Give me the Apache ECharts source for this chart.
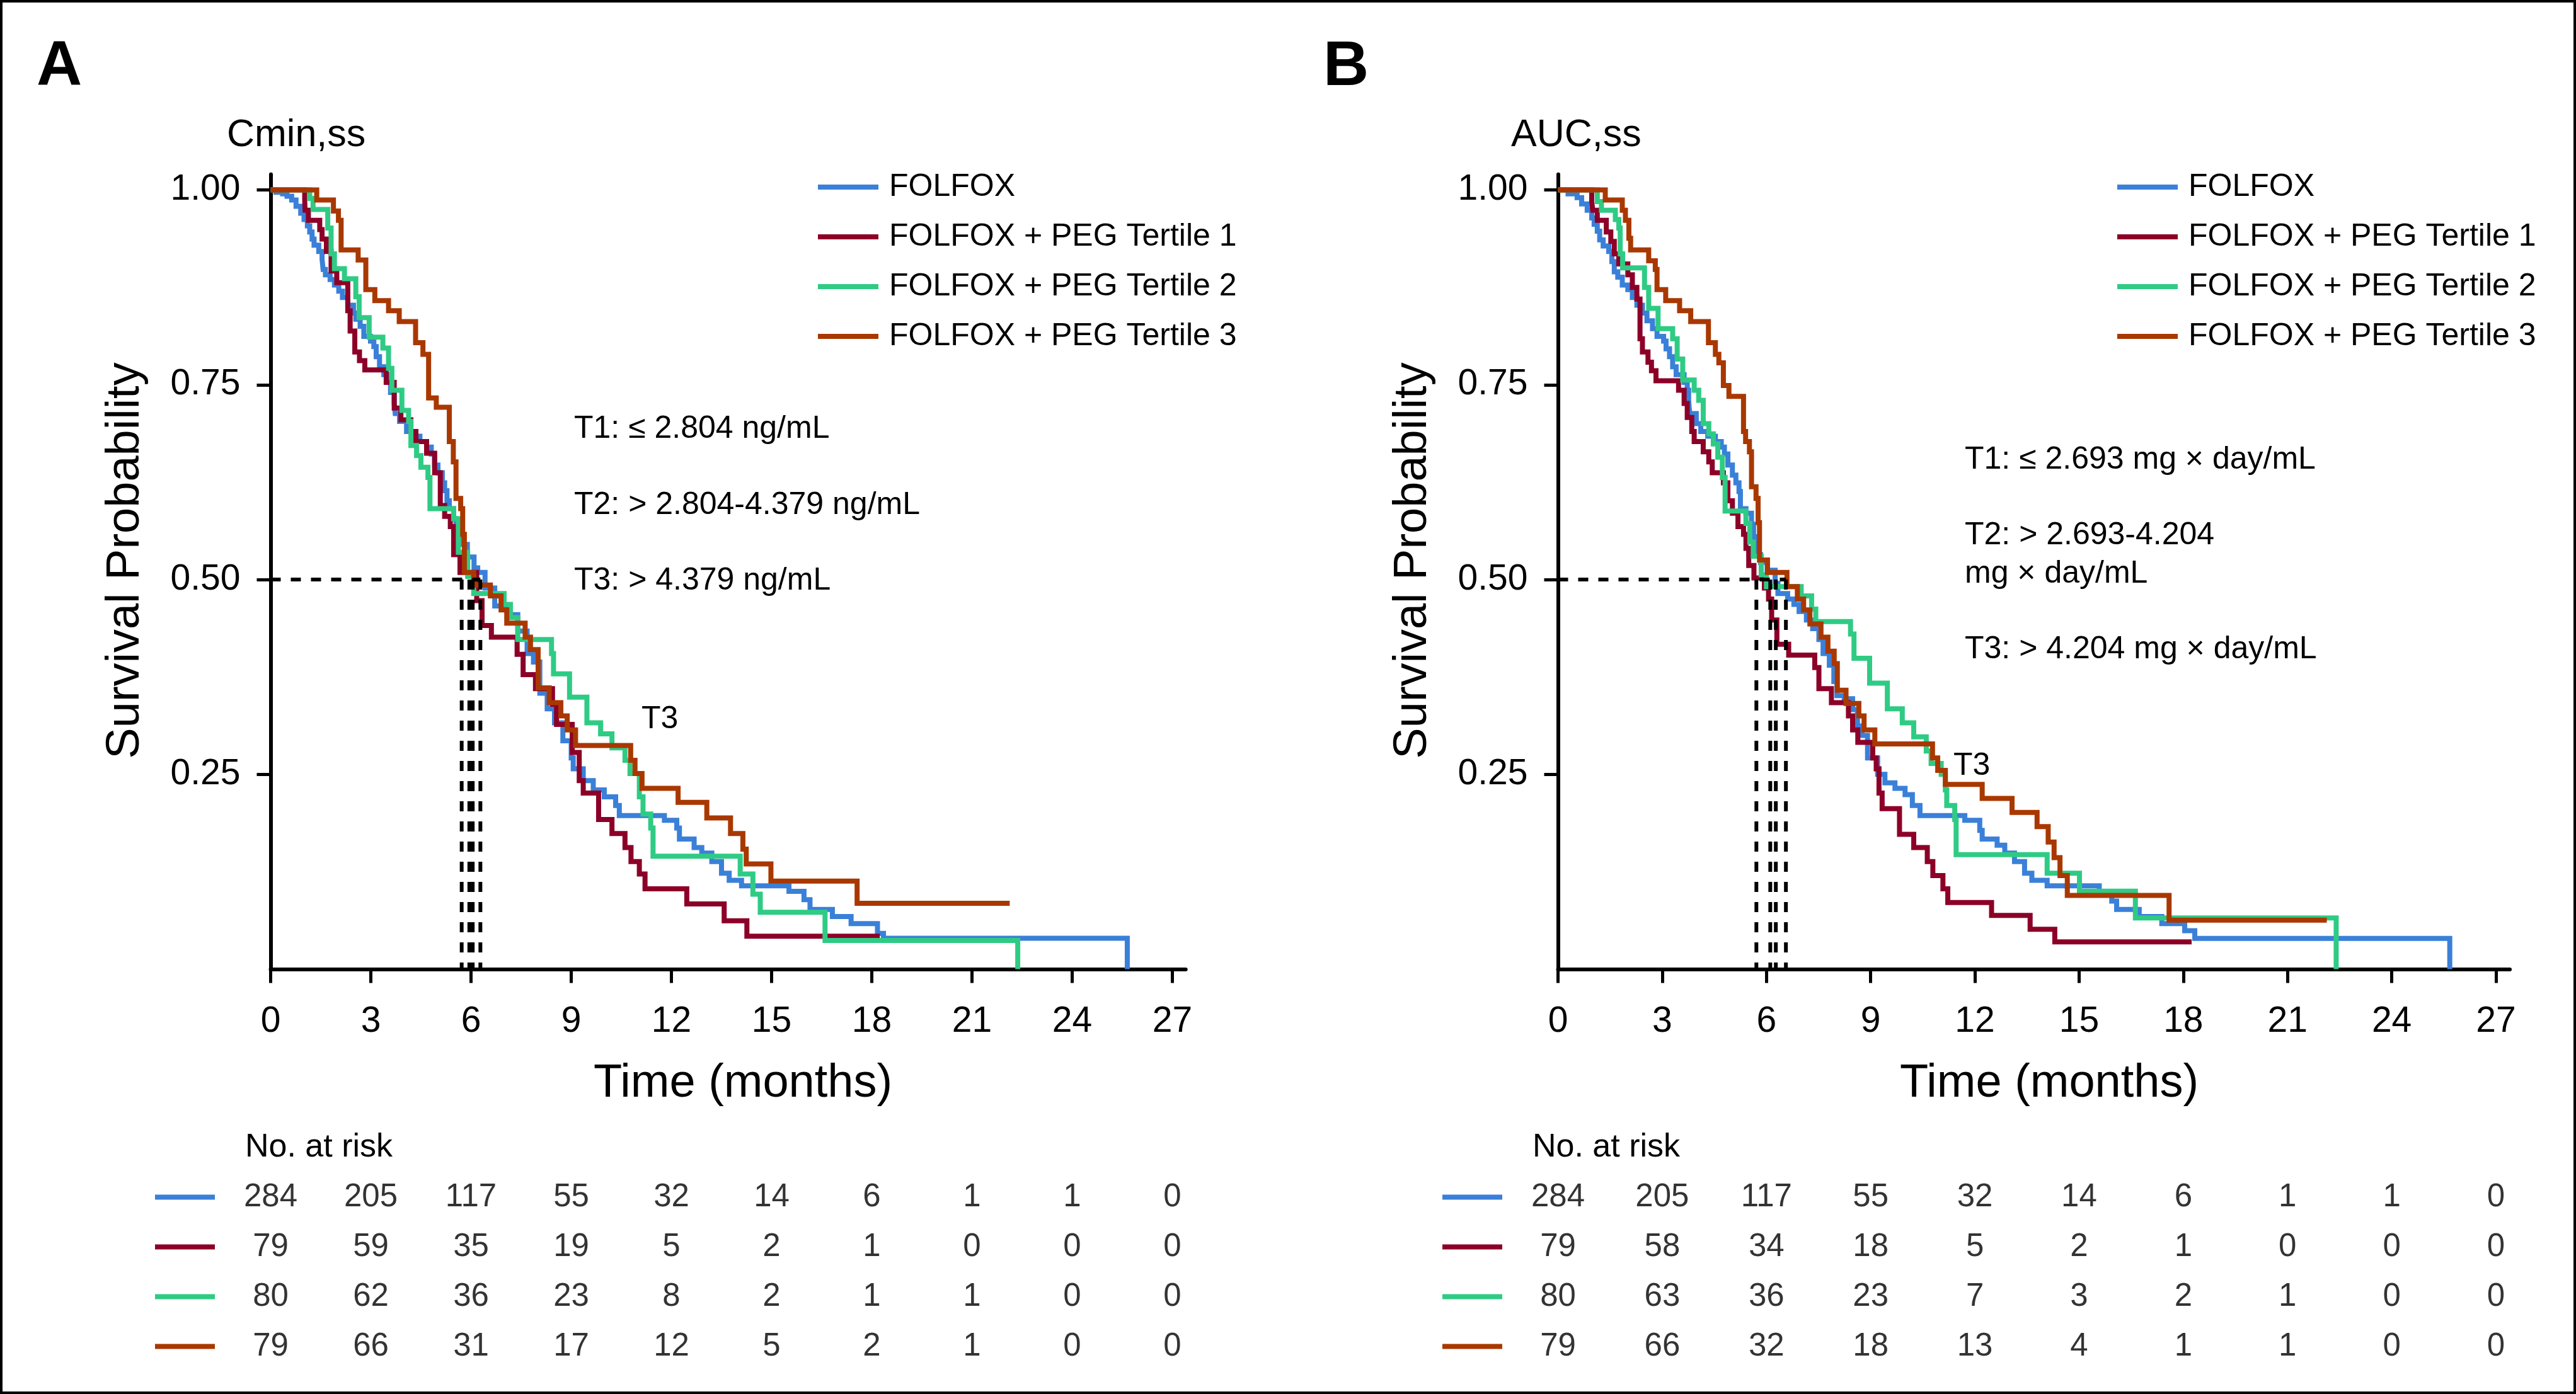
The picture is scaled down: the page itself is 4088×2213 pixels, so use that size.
<!DOCTYPE html>
<html><head><meta charset="utf-8">
<script src="https://cdn.jsdelivr.net/npm/echarts@6/dist/echarts.min.js"></script>
<style>html,body{margin:0;padding:0;background:#fff}#c{width:4088px;height:2213px}</style>
</head><body><div id="c"></div>
<script>
// ---------- DATA ----------
const seriesNames = ['FOLFOX', 'FOLFOX + PEG Tertile 1', 'FOLFOX + PEG Tertile 2', 'FOLFOX + PEG Tertile 3'];
const xTicks = [0, 3, 6, 9, 12, 15, 18, 21, 24, 27];
const yTicks = [0.25, 0.5, 0.75, 1.0];

// Panel A (Cmin,ss) Kaplan-Meier steps [months, survival]
const aFolfox = [[0,1],[0.16,0.997],[0.36,0.995],[0.49,0.992],[0.63,0.987],[0.76,0.979],[0.90,0.970],[1.00,0.962],[1.10,0.954],[1.17,0.946],[1.24,0.937],[1.30,0.929],[1.44,0.921],[1.54,0.911],[1.57,0.898],[1.64,0.891],[1.78,0.885],[1.91,0.878],[2.04,0.870],[2.15,0.862],[2.31,0.852],[2.48,0.842],[2.55,0.834],[2.68,0.825],[2.79,0.812],[2.99,0.806],[3.09,0.799],[3.16,0.786],[3.26,0.773],[3.39,0.763],[3.49,0.753],[3.59,0.740],[3.70,0.726],[3.73,0.713],[3.86,0.703],[4.07,0.690],[4.27,0.684],[4.47,0.677],[4.67,0.670],[4.81,0.661],[4.91,0.647],[5.01,0.637],[5.14,0.624],[5.21,0.614],[5.28,0.601],[5.35,0.591],[5.48,0.578],[5.55,0.562],[5.68,0.545],[5.89,0.529],[6.09,0.515],[6.20,0.509],[6.42,0.489],[6.71,0.466],[7.12,0.455],[7.40,0.434],[7.68,0.405],[7.87,0.394],[8.06,0.354],[8.28,0.334],[8.50,0.316],[8.75,0.293],[9.00,0.271],[9.06,0.257],[9.36,0.242],[9.66,0.230],[9.99,0.221],[10.33,0.210],[10.44,0.197],[11.79,0.191],[12.16,0.181],[12.24,0.167],[12.68,0.156],[12.91,0.149],[13.21,0.138],[13.50,0.123],[13.73,0.114],[14.10,0.107],[15.52,0.0999],[15.97,0.0891],[16.15,0.0765],[16.82,0.0675],[17.38,0.0585],[18.17,0.0458],[18.35,0.0397],[25.65,0]];
const aT1 = [[0,1],[1.02,0.987],[1.03,0.974],[1.13,0.961],[1.47,0.949],[1.54,0.937],[1.67,0.921],[1.81,0.896],[1.98,0.881],[2.31,0.845],[2.38,0.819],[2.52,0.792],[2.66,0.781],[2.82,0.769],[3.46,0.753],[3.70,0.720],[3.90,0.705],[4.20,0.690],[4.35,0.677],[4.67,0.662],[4.91,0.637],[5.08,0.595],[5.21,0.581],[5.38,0.568],[5.48,0.532],[5.67,0.509],[6.17,0.473],[6.33,0.441],[6.61,0.426],[7.38,0.404],[7.56,0.378],[7.93,0.360],[8.44,0.340],[8.56,0.314],[9.03,0.278],[9.24,0.242],[9.36,0.226],[9.82,0.192],[10.22,0.174],[10.61,0.156],[10.79,0.138],[11.04,0.122],[11.21,0.103],[12.46,0.0837],[13.58,0.0620],[14.26,0.0422],[18.24,0.0422]];
const aT2 = [[0,1],[1.17,0.989],[1.27,0.975],[1.71,0.951],[1.81,0.918],[1.91,0.899],[2.21,0.886],[2.55,0.863],[2.65,0.836],[2.95,0.811],[3.36,0.797],[3.53,0.771],[3.63,0.743],[3.93,0.717],[4.13,0.703],[4.20,0.672],[4.37,0.659],[4.50,0.644],[4.71,0.631],[4.77,0.591],[5.48,0.578],[5.62,0.535],[5.90,0.504],[6.08,0.482],[6.99,0.468],[7.18,0.451],[7.40,0.423],[8.41,0.405],[8.47,0.379],[8.95,0.349],[9.47,0.316],[9.88,0.302],[10.22,0.284],[10.61,0.268],[10.76,0.251],[11.04,0.221],[11.15,0.199],[11.38,0.181],[11.45,0.145],[14.06,0.122],[14.44,0.0963],[14.66,0.0729],[16.60,0.0368],[22.37,0]];
const aT3 = [[0,1],[1.38,0.987],[1.88,0.973],[2.03,0.961],[2.11,0.923],[2.62,0.910],[2.85,0.872],[3.12,0.858],[3.53,0.845],[3.85,0.831],[4.34,0.804],[4.56,0.789],[4.73,0.733],[4.96,0.721],[5.35,0.677],[5.47,0.651],[5.55,0.604],[5.69,0.591],[5.75,0.558],[5.80,0.509],[6.08,0.493],[6.58,0.479],[6.90,0.461],[7.07,0.444],[7.62,0.426],[7.78,0.410],[8.01,0.361],[8.34,0.342],[8.69,0.325],[8.88,0.307],[9.13,0.287],[10.78,0.268],[10.91,0.251],[11.12,0.232],[12.20,0.214],[13.06,0.194],[13.77,0.174],[14.14,0.154],[14.24,0.135],[14.98,0.113],[17.56,0.0844],[22.13,0.0844]];
const aMedians = [5.72, 5.95, 6.05, 6.28];

// Panel B (AUC,ss)
const bFolfox = [[0,1],[0.29,0.995],[0.55,0.990],[0.68,0.982],[0.84,0.974],[0.97,0.964],[1.04,0.956],[1.13,0.947],[1.20,0.936],[1.30,0.928],[1.46,0.921],[1.55,0.908],[1.62,0.895],[1.72,0.888],[1.85,0.878],[2.01,0.872],[2.14,0.862],[2.27,0.852],[2.43,0.842],[2.56,0.832],[2.72,0.822],[2.85,0.812],[3.04,0.806],[3.11,0.796],[3.21,0.786],[3.30,0.773],[3.40,0.763],[3.63,0.753],[3.72,0.743],[3.76,0.730],[3.79,0.713],[3.98,0.700],[4.11,0.690],[4.31,0.684],[4.53,0.677],[4.70,0.670],[4.79,0.661],[4.89,0.647],[5.02,0.634],[5.12,0.624],[5.21,0.613],[5.25,0.591],[5.41,0.585],[5.57,0.571],[5.63,0.555],[5.67,0.532],[5.83,0.522],[6.02,0.512],[6.25,0.495],[6.33,0.482],[6.61,0.475],[6.79,0.468],[6.94,0.459],[7.15,0.448],[7.33,0.437],[7.51,0.423],[7.63,0.405],[7.81,0.390],[7.94,0.369],[8.03,0.351],[8.24,0.347],[8.48,0.333],[8.62,0.312],[8.75,0.300],[8.91,0.271],[9.20,0.250],[9.41,0.239],[9.70,0.232],[9.99,0.224],[10.20,0.210],[10.42,0.197],[11.71,0.191],[12.14,0.178],[12.21,0.167],[12.64,0.159],[12.86,0.149],[13.14,0.138],[13.43,0.123],[13.64,0.114],[14.08,0.107],[15.58,0.0999],[15.94,0.0873],[16.08,0.0765],[16.73,0.0675],[17.38,0.0585],[18.04,0.0494],[18.33,0.0394],[25.67,0]];
const bT1 = [[0,1],[0.97,0.985],[1.00,0.974],[1.13,0.961],[1.39,0.946],[1.52,0.934],[1.62,0.918],[1.75,0.905],[2.01,0.891],[2.14,0.875],[2.27,0.860],[2.36,0.809],[2.43,0.792],[2.59,0.779],[2.69,0.768],[2.82,0.755],[3.47,0.743],[3.63,0.726],[3.72,0.708],[3.85,0.690],[3.92,0.677],[4.18,0.664],[4.34,0.651],[4.44,0.637],[4.76,0.624],[4.89,0.601],[5.02,0.585],[5.18,0.568],[5.34,0.558],[5.41,0.540],[5.49,0.518],[5.64,0.502],[5.94,0.489],[6.06,0.475],[6.15,0.448],[6.30,0.417],[6.64,0.403],[7.39,0.387],[7.51,0.360],[7.87,0.342],[8.36,0.325],[8.48,0.307],[8.63,0.291],[9.06,0.271],[9.16,0.257],[9.24,0.226],[9.33,0.206],[9.83,0.173],[10.24,0.156],[10.63,0.138],[10.79,0.120],[11.08,0.103],[11.22,0.0855],[12.48,0.069],[13.59,0.0512],[14.30,0.035],[18.24,0.035]];
const bT2 = [[0,1],[1.13,0.985],[1.25,0.974],[1.65,0.962],[1.75,0.951],[1.79,0.918],[1.86,0.900],[2.49,0.875],[2.61,0.848],[2.88,0.822],[3.30,0.809],[3.43,0.783],[3.59,0.756],[3.92,0.743],[4.05,0.730],[4.18,0.700],[4.34,0.687],[4.47,0.674],[4.60,0.657],[4.73,0.631],[4.81,0.588],[5.41,0.572],[5.52,0.548],[5.62,0.530],[5.85,0.506],[6.00,0.491],[7.00,0.479],[7.30,0.462],[7.42,0.446],[8.42,0.430],[8.52,0.399],[8.97,0.367],[9.48,0.334],[9.91,0.316],[10.24,0.298],[10.60,0.280],[10.74,0.264],[11.03,0.250],[11.15,0.230],[11.19,0.210],[11.42,0.192],[11.46,0.147],[14.08,0.123],[15.01,0.100],[16.62,0.0657],[22.40,0]];
const bT3 = [[0,1],[1.36,0.987],[1.85,0.974],[1.94,0.961],[2.04,0.938],[2.09,0.923],[2.61,0.909],[2.80,0.898],[2.85,0.872],[3.10,0.858],[3.50,0.845],[3.82,0.831],[4.33,0.804],[4.53,0.789],[4.63,0.778],[4.76,0.749],[4.92,0.735],[5.34,0.690],[5.40,0.677],[5.51,0.664],[5.57,0.619],[5.70,0.604],[5.76,0.573],[5.80,0.525],[6.03,0.509],[6.59,0.491],[6.89,0.475],[7.07,0.461],[7.25,0.443],[7.57,0.426],[7.77,0.408],[7.95,0.392],[8.04,0.358],[8.29,0.341],[8.66,0.325],[8.81,0.307],[9.12,0.289],[10.78,0.271],[10.93,0.255],[11.15,0.237],[12.21,0.219],[13.07,0.201],[13.79,0.183],[14.11,0.163],[14.28,0.143],[14.45,0.120],[14.66,0.0945],[17.59,0.0628],[22.13,0.0628]];
const bMedians = [5.71, 6.11, 6.27, 6.56];

// Number at risk
const aRiskFolfox = [284, 205, 117, 55, 32, 14, 6, 1, 1, 0];
const aRiskT1 = [79, 59, 35, 19, 5, 2, 1, 0, 0, 0];
const aRiskT2 = [80, 62, 36, 23, 8, 2, 1, 1, 0, 0];
const aRiskT3 = [79, 66, 31, 17, 12, 5, 2, 1, 0, 0];
const bRiskFolfox = [284, 205, 117, 55, 32, 14, 6, 1, 1, 0];
const bRiskT1 = [79, 58, 34, 18, 5, 2, 1, 0, 0, 0];
const bRiskT2 = [80, 63, 36, 23, 7, 3, 2, 1, 0, 0];
const bRiskT3 = [79, 66, 32, 18, 13, 4, 1, 1, 0, 0];

// ---------- STYLE ----------
const COLORS = ['#3A80D8', '#8C0028', '#2FCB84', '#A93800'];
const FONT = '"Liberation Sans", Arial, Helvetica, sans-serif';
const X_MAX = 27.4, Y_MAX = 1.02;
const PX_PER_UNIT_Y = 1237;
const AXIS_Y = 1538.5;
const panels = [
  { left: 429.5, pxm: 53.0, curves: [aFolfox, aT1, aT2, aT3], medians: aMedians, risk: [aRiskFolfox, aRiskT1, aRiskT2, aRiskT3] },
  { left: 2472.5, pxm: 55.13, curves: [bFolfox, bT1, bT2, bT3], medians: bMedians, risk: [bRiskFolfox, bRiskT1, bRiskT2, bRiskT3] }
];

const grids = [], xAxes = [], yAxes = [], series = [];
const plotTop = AXIS_Y - Y_MAX * PX_PER_UNIT_Y;

panels.forEach((p, pi) => {
  const w = X_MAX * p.pxm;
  grids.push({ left: p.left, top: plotTop, width: w, height: Y_MAX * PX_PER_UNIT_Y, containLabel: false });
  grids.push({ left: p.left, top: 1861, width: w, height: 316, containLabel: false });
  const gMain = pi * 2, gRisk = pi * 2 + 1;
  xAxes.push({
    gridIndex: gMain, type: 'value', min: 0, max: X_MAX,
    axisLine: { show: true, lineStyle: { color: '#000', width: 6 } },
    axisTick: { show: true, customValues: xTicks, length: 22, lineStyle: { color: '#000', width: 5 } },
    axisLabel: { show: true, customValues: xTicks, fontSize: 57, color: '#000', fontFamily: FONT, margin: 55 },
    splitLine: { show: false }
  });
  yAxes.push({
    gridIndex: gMain, type: 'value', min: 0, max: Y_MAX,
    axisLine: { show: true, lineStyle: { color: '#000', width: 6 } },
    axisTick: { show: true, customValues: yTicks, length: 22, lineStyle: { color: '#000', width: 5 } },
    axisLabel: { show: true, customValues: yTicks, fontSize: 57, color: '#000', fontFamily: FONT, margin: 48,
      formatter: v => v.toFixed(2) },
    splitLine: { show: false }
  });
  xAxes.push({ gridIndex: gRisk, type: 'value', min: 0, max: X_MAX, show: false });
  const rich = {};
  COLORS.forEach((c, i) => { rich['k' + i] = { width: 95, height: 8, lineHeight: 8, fontSize: 1, backgroundColor: c }; });
  yAxes.push({
    gridIndex: gRisk, type: 'category', inverse: true, data: ['0', '1', '2', '3'],
    axisLine: { show: false }, axisTick: { show: false }, splitLine: { show: false },
    axisLabel: { show: true, margin: 88.5, formatter: (v, i) => '{k' + i + '| }', rich: rich }
  });
  const xi = pi * 2, yi = pi * 2;
  p.curves.forEach((d, ci) => {
    series.push({
      name: seriesNames[ci], type: 'line', xAxisIndex: xi, yAxisIndex: yi, step: 'end',
      data: d, showSymbol: false, symbol: 'none', silent: true, z: 2 + ci,
      itemStyle: { color: COLORS[ci] },
      lineStyle: { color: COLORS[ci], width: 8, cap: 'butt', join: 'miter' }
    });
  });
  const mMax = Math.max(...p.medians);
  const dash = { color: '#000', width: 6, type: [16, 16] };
  series.push({ type: 'line', xAxisIndex: xi, yAxisIndex: yi, data: [[0, 0.5], [mMax, 0.5]], showSymbol: false, symbol: 'none', silent: true, z: 10, lineStyle: dash });
  p.medians.forEach(m => {
    series.push({ type: 'line', xAxisIndex: xi, yAxisIndex: yi, data: [[m, 0.5], [m, 0]], showSymbol: false, symbol: 'none', silent: true, z: 10, lineStyle: dash });
  });
  p.risk.forEach((row, ri) => {
    series.push({
      type: 'scatter', xAxisIndex: xi + 1, yAxisIndex: yi + 1, symbolSize: 2, silent: true,
      itemStyle: { color: 'transparent' },
      data: row.map((v, k) => [xTicks[k], ri, v]),
      label: { show: true, position: 'inside', formatter: q => String(q.data[2]), fontSize: 51, color: '#000', fontFamily: FONT }
    });
  });
});

function txt(text, x, y, size, opts) {
  opts = opts || {};
  return {
    type: 'text', x: x, y: y, rotation: opts.rot || 0, silent: true,
    style: { text: text, fill: '#000', font: (opts.bold ? 'bold ' : '') + size + 'px ' + FONT,
      align: opts.align || 'left', verticalAlign: 'middle', textAlign: opts.align || 'left', textVerticalAlign: 'middle' }
  };
}
const dB = 2043;
const graphics = [
  { type: 'rect', silent: true, shape: { x: 2, y: 2, width: 4084, height: 2209 }, style: { fill: 'none', stroke: '#000', lineWidth: 4 } },
  txt('A', 58, 107, 100, { bold: true }),
  txt('B', 2100, 107, 100, { bold: true }),
  txt('Cmin,ss', 360, 215, 61),
  txt('AUC,ss', 2398, 215, 61),
  txt('Survival Probability', 200, 890, 74, { rot: Math.PI / 2, align: 'center' }),
  txt('Survival Probability', 200 + dB, 890, 74, { rot: Math.PI / 2, align: 'center' }),
  txt('Time (months)', 1179, 1721, 74, { align: 'center' }),
  txt('Time (months)', 3252, 1721, 74, { align: 'center' }),
  txt('T1: \u2264 2.804 ng/mL', 911, 681, 50),
  txt('T2: > 2.804-4.379 ng/mL', 911, 802, 50),
  txt('T3: > 4.379 ng/mL', 911, 922, 50),
  txt('T3', 1018, 1142, 50),
  txt('T1: \u2264 2.693 mg \u00d7 day/mL', 3118, 730, 50),
  txt('T2: > 2.693-4.204', 3118, 850, 50),
  txt('mg \u00d7 day/mL', 3118, 911, 50),
  txt('T3: > 4.204 mg \u00d7 day/mL', 3118, 1031, 50),
  txt('T3', 3100, 1216, 50),
  txt('No. at risk', 389, 1822, 52),
  txt('No. at risk', 389 + dB, 1822, 52)
];

const legendBase = {
  orient: 'vertical', top: 267, itemWidth: 96, itemHeight: 8, icon: 'rect', itemGap: 29,
  data: seriesNames, selectedMode: false,
  textStyle: { fontSize: 50, color: '#000', fontFamily: FONT, lineHeight: 50, padding: [0, 0, 0, 12] }
};

const chart = echarts.init(document.getElementById('c'), null, { renderer: 'canvas' });
chart.setOption({
  animation: false,
  backgroundColor: '#fff',
  grid: grids, xAxis: xAxes, yAxis: yAxes, series: series,
  legend: [Object.assign({}, legendBase, { left: 1293 }), Object.assign({}, legendBase, { left: 3355 })],
  graphic: graphics
});
</script></body></html>
